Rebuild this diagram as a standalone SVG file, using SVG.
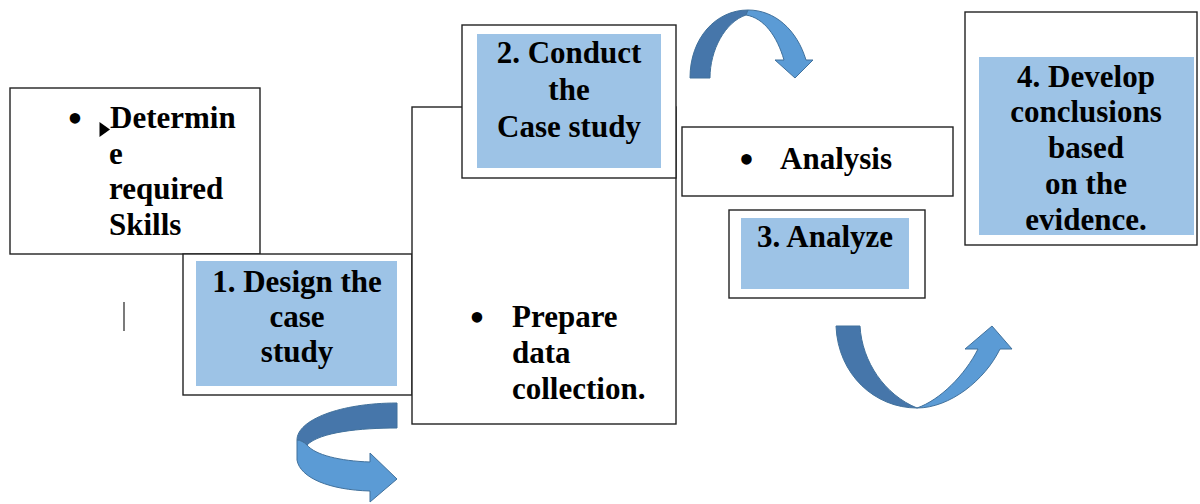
<svg xmlns="http://www.w3.org/2000/svg" width="1200" height="504" viewBox="0 0 1200 504">
<style>
.box{fill:#fff;stroke:#222;stroke-width:1.4}
.blue{fill:#9dc3e6}
.t{font-weight:bold;font-size:31px;fill:#000}
.b{font-size:44px;fill:#000;text-anchor:middle}
.c{text-anchor:middle}
.dk{fill:#4676aa;stroke:#41719c;stroke-width:1}
.lt{fill:#5b9bd5;stroke:#41719c;stroke-width:1}
</style>
<rect width="1200" height="504" fill="#fff"/>
<g font-family="'Liberation Serif', 'DejaVu Serif', serif">
<g id="determine">
<rect class="box" x="10" y="88" width="250" height="166"/>
<text class="b" x="75" y="133" font-family="'Liberation Serif', 'DejaVu Serif', serif">•</text>
<polygon points="99.5,122 99.5,137 110,129.5" fill="#000"/>
<text class="t" x="110" y="128" font-family="'Liberation Serif', 'DejaVu Serif', serif">Determin</text>
<text class="t" x="109" y="164" font-family="'Liberation Serif', 'DejaVu Serif', serif">e</text>
<text class="t" x="109" y="199" font-family="'Liberation Serif', 'DejaVu Serif', serif">required</text>
<text class="t" x="109" y="235" font-family="'Liberation Serif', 'DejaVu Serif', serif">Skills</text>
</g>
<line x1="124" y1="302" x2="124" y2="331" stroke="#222" stroke-width="1.2"/>
<g id="design">
<rect class="box" x="183" y="254" width="229" height="141"/>
<rect class="blue" x="196" y="261" width="201" height="125"/>
<text class="t c" x="297" y="292" font-family="'Liberation Serif', 'DejaVu Serif', serif">1. Design the</text>
<text class="t c" x="297" y="327" font-family="'Liberation Serif', 'DejaVu Serif', serif">case</text>
<text class="t c" x="297" y="362" font-family="'Liberation Serif', 'DejaVu Serif', serif">study</text>
</g>
<g id="prepare">
<rect class="box" x="412" y="107" width="264" height="317"/>
<text class="b" x="477" y="332" font-family="'Liberation Serif', 'DejaVu Serif', serif">•</text>
<text class="t" x="512" y="327" font-family="'Liberation Serif', 'DejaVu Serif', serif">Prepare</text>
<text class="t" x="512" y="363" font-family="'Liberation Serif', 'DejaVu Serif', serif">data</text>
<text class="t" x="512" y="399" font-family="'Liberation Serif', 'DejaVu Serif', serif">collection.</text>
</g>
<g id="conduct">
<rect class="box" x="462" y="25" width="214" height="153"/>
<rect class="blue" x="477" y="34" width="184" height="134"/>
<text class="t c" x="569" y="63" font-family="'Liberation Serif', 'DejaVu Serif', serif">2. Conduct</text>
<text class="t c" x="569" y="100" font-family="'Liberation Serif', 'DejaVu Serif', serif">the</text>
<text class="t c" x="569" y="137" font-family="'Liberation Serif', 'DejaVu Serif', serif">Case study</text>
</g>
<g id="analysis">
<rect class="box" x="682" y="127" width="271" height="69"/>
<text class="b" x="746.5" y="174" font-family="'Liberation Serif', 'DejaVu Serif', serif">•</text>
<text class="t" x="780" y="169" font-family="'Liberation Serif', 'DejaVu Serif', serif">Analysis</text>
</g>
<g id="analyze">
<rect class="box" x="729" y="210" width="196" height="88"/>
<rect class="blue" x="741" y="218" width="168" height="71"/>
<text class="t c" x="825" y="247" font-family="'Liberation Serif', 'DejaVu Serif', serif">3. Analyze</text>
</g>
<g id="develop">
<rect class="box" x="965" y="12" width="232" height="233"/>
<rect class="blue" x="979" y="57" width="215" height="178"/>
<text class="t c" x="1086" y="87" font-family="'Liberation Serif', 'DejaVu Serif', serif">4. Develop</text>
<text class="t c" x="1086" y="122" font-family="'Liberation Serif', 'DejaVu Serif', serif">conclusions</text>
<text class="t c" x="1086" y="158" font-family="'Liberation Serif', 'DejaVu Serif', serif">based</text>
<text class="t c" x="1086" y="194" font-family="'Liberation Serif', 'DejaVu Serif', serif">on the</text>
<text class="t c" x="1086" y="230" font-family="'Liberation Serif', 'DejaVu Serif', serif">evidence.</text>
</g>
</g>
<g id="connectors">
<g id="arrow-top">
<path class="dk" d="M690,78 C690,38 716,10 748,10 L746,15 C725,22 710,50 710,78 Z"/>
<path class="lt" d="M748,10 C775,10 797,30 806,60 L813,60 L795,78 L775,60 L784,60 C777,36 764,18 746,15 Z"/>
</g>
<g id="arrow-bottom-left">
<path class="dk" d="M397,403 C340,403 297,420 297,440 C300,440 304,442 307,445 C320,432 360,428 397,428 Z"/>
<path class="lt" d="M297,440 L297,460 C300,478 330,490 370,491 L370,502 L397,479 L370,453 L370,462 C340,461 315,455 307,445 C304,442 300,440 297,440 Z"/>
</g>
<g id="arrow-bottom-right">
<path class="dk" d="M836,326 L860,326 C862,362 885,395 917,408 C875,408 838,375 836,326 Z"/>
<path class="lt" d="M917,408 C950,408 985,380 1000,349 L1012,349 L992,326 L965,349 L978,349 C965,375 940,400 917,408 Z"/>
</g>
</g>
</svg>
